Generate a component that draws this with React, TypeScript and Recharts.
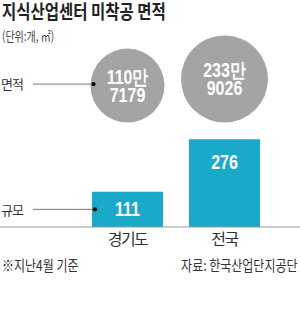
import React from 'react';
import { ComposedChart, Bar, Scatter, XAxis, YAxis, ZAxis, LabelList } from 'recharts';

// ---- data ----
const regions = ['경기도', '전국'];
const siteCounts = [111, 276]; // 규모 (개)
const areaSqm = [1107179, 2339026]; // 면적 (㎡)

const titleText = '지식산업센터 미착공 면적';
const unitText = '(단위:개, ㎡)';
const areaRowLabel = '면적';
const countRowLabel = '규모';
const noteText = '※지난4월 기준';
const sourceText = '자료: 한국산업단지공단';

// ---- layout / style constants ----
const W = 300;
const H = 323;
const BAR_COLOR = '#1aa9c9';
const CIRCLE_COLOR = '#a4a4a4';
const KR = '"Noto Sans CJK KR", "Noto Sans", sans-serif';
const NUM = '"Liberation Sans", Arial, sans-serif';
const NUM_SQUEEZE = 0.8;
const CIRCLE_ROW = 0.46; // vertical anchor (bottom) of the circle row on the hidden row axis
const LEADER_X = 33;

const data = regions.map((region, i) => ({ region, count: siteCounts[i], area: areaSqm[i] }));

const fmtMan = (v: number) => `${Math.floor(v / 10000)}만`;
const fmtRest = (v: number) => `${v % 10000}`;

const NumText = ({ x, y, children }: any) => (
  <g transform={`translate(${x},${y}) scale(${NUM_SQUEEZE},1)`}>
    <text x={0} y={0} textAnchor="middle" fill="#fff" fontFamily={NUM} fontWeight={700} fontSize={20}>{children}</text>
  </g>
);

const CircleShape = (props: any) => {
  const { cx, cy, width, size, payload } = props;
  const r = width ? width / 2 : Math.sqrt((size || 0) / Math.PI);
  const c = cy - r;
  const first = payload && payload.region === regions[0];
  return (
    <g>
      <circle cx={cx} cy={c} r={r} fill={CIRCLE_COLOR} />
      <NumText x={cx} y={c - 2}>{fmtMan(payload.area)}</NumText>
      <NumText x={cx} y={c + 16}>{fmtRest(payload.area)}</NumText>
      {first && (
        <g>
          <line x1={LEADER_X} y1={c - 1.5} x2={cx - r + 3} y2={c - 1.5} stroke="#777" strokeWidth={1} />
          <circle cx={cx - r + 3} cy={c - 1.5} r={2.2} fill="#111" />
          <text x={1} y={c - 2} dominantBaseline="central" fill="#333" fontFamily={KR}
            fontSize={13} letterSpacing={-1}>{areaRowLabel}</text>
        </g>
      )}
    </g>
  );
};

const BarShape = (props: any) => {
  const { x, y, width, height, payload } = props;
  const first = payload && payload.region === regions[0];
  const my = y + height / 2;
  return (
    <g>
      <rect x={x} y={y} width={width} height={height} fill={BAR_COLOR} />
      {first && (
        <g>
          <line x1={LEADER_X} y1={my} x2={x + 3} y2={my} stroke="#777" strokeWidth={1} />
          <circle cx={x + 3} cy={my} r={2.2} fill="#111" />
          <text x={1} y={my} dominantBaseline="central" fill="#333" fontFamily={KR}
            fontSize={13} letterSpacing={-1}>{countRowLabel}</text>
        </g>
      )}
    </g>
  );
};

const BarValueLabel = (props: any) => {
  const { x, y, width, height, value } = props;
  return <NumText x={x + width / 2} y={y + Math.min(height / 2, 23) + 7}>{value}</NumText>;
};

const CategoryTick = (props: any) => {
  const { x, y, payload } = props;
  return (
    <text x={x} y={y + 18} textAnchor="middle" fill="#333" fontFamily={KR} fontSize={16}
      letterSpacing={-1.5}>{payload.value}</text>
  );
};

export default function App() {
  return (
    <div style={{ position: 'absolute', left: 0, top: 0, width: W, height: H, background: '#fff', overflow: 'hidden' }}>
      <div style={{ position: 'absolute', left: 2, top: 1, fontFamily: KR, fontWeight: 700, fontSize: 19, lineHeight: '19px',
        color: '#222', whiteSpace: 'nowrap', transform: 'scaleX(0.815)', transformOrigin: 'left top' }}>{titleText}</div>
      <div style={{ position: 'absolute', left: 2, top: 29, fontFamily: KR, fontSize: 13, lineHeight: '13px',
        color: '#444', whiteSpace: 'nowrap', transform: 'scaleX(0.77)', transformOrigin: 'left top' }}>{unitText}</div>
      <div style={{ position: 'absolute', left: 0, top: 0 }}>
        <ComposedChart width={W} height={H} data={data} margin={{ top: 0, right: 0, bottom: 0, left: 0 }}>
          <XAxis dataKey="region" height={96} padding={{ left: 79, right: 27 }} axisLine={{ stroke: '#999' }}
            tickLine={false} tickSize={0} tickMargin={0} tick={<CategoryTick />} interval={0} />
          <YAxis yAxisId="count" hide domain={[0, 714]} />
          <YAxis yAxisId="row" hide domain={[0, 1]} dataKey={() => CIRCLE_ROW} />
          <ZAxis dataKey="area" range={[4300, 5950]} domain={['dataMin', 'dataMax']} />
          <Bar yAxisId="count" dataKey="count" barSize={71} isAnimationActive={false} shape={<BarShape />}>
            <LabelList dataKey="count" content={<BarValueLabel />} />
          </Bar>
          <Scatter yAxisId="row" dataKey="area" isAnimationActive={false} shape={<CircleShape />} />
        </ComposedChart>
      </div>
      <div style={{ position: 'absolute', left: 2, top: 257, fontFamily: KR, fontSize: 15, lineHeight: '15px',
        color: '#333', whiteSpace: 'nowrap', transform: 'scaleX(0.8)', transformOrigin: 'left top' }}>{noteText}</div>
      <div style={{ position: 'absolute', right: 2, top: 257, fontFamily: KR, fontSize: 15, lineHeight: '15px',
        color: '#333', whiteSpace: 'nowrap', transform: 'scaleX(0.8)', transformOrigin: 'right top' }}>{sourceText}</div>
    </div>
  );
}
